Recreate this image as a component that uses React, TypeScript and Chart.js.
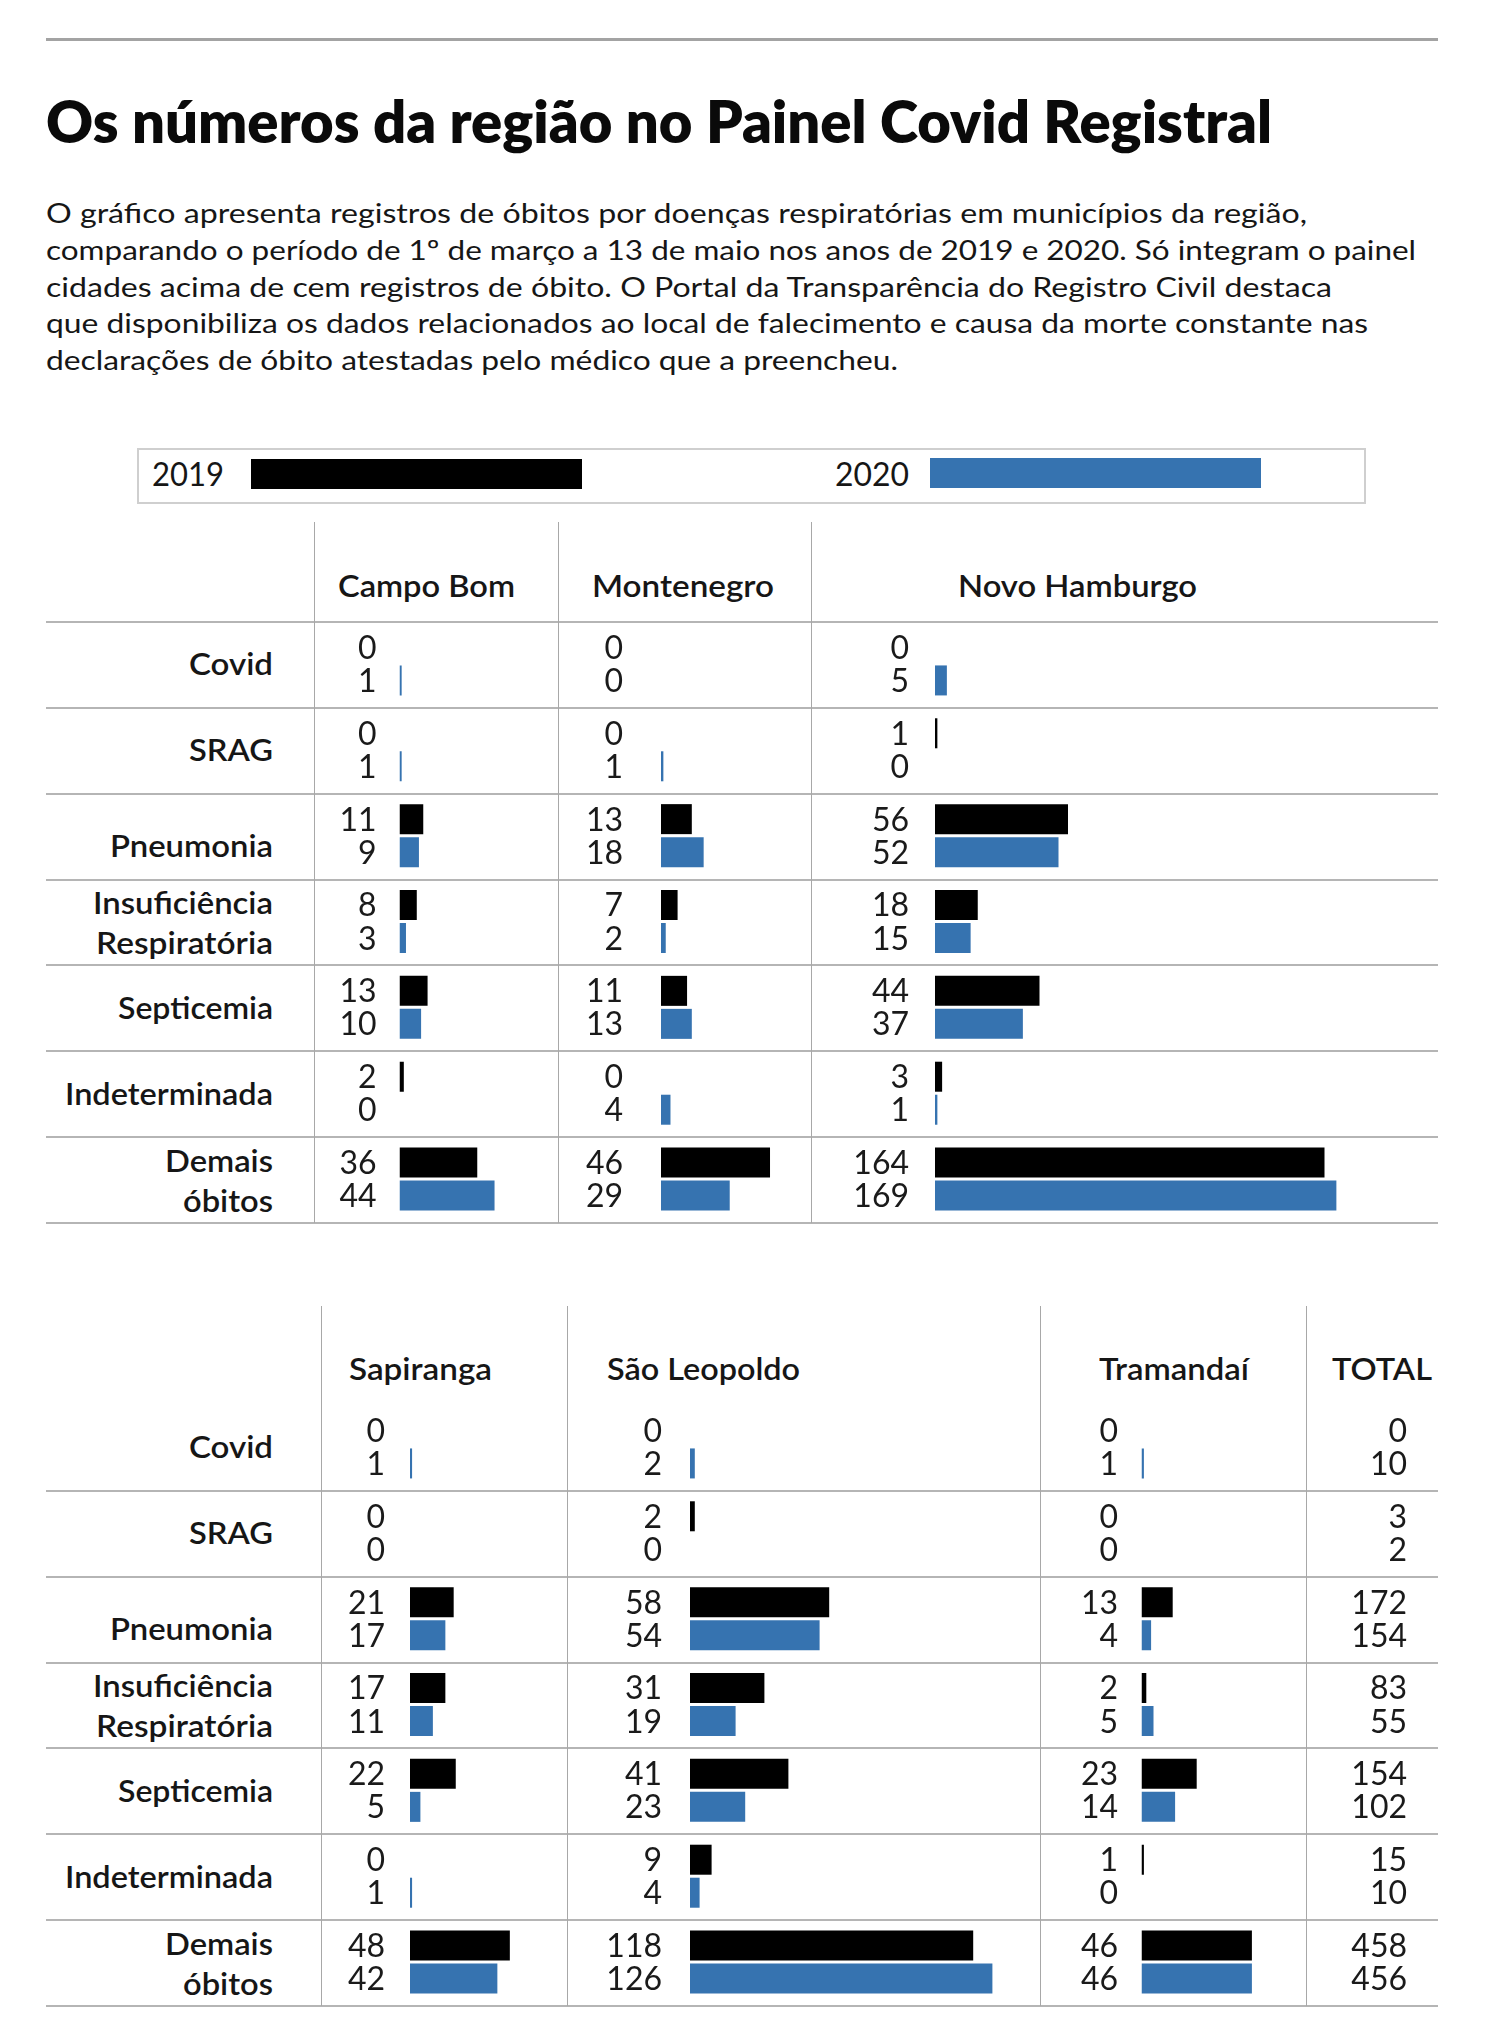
import React, { useEffect, useLayoutEffect, useRef } from "react";
import { Chart, registerables } from "chart.js";

Chart.register(...registerables);

// ---------- DATA ----------
const categories = [
  "Covid",
  "SRAG",
  "Pneumonia",
  "Insuficiência Respiratória",
  "Septicemia",
  "Indeterminada",
  "Demais óbitos",
];
const years = ["2019", "2020"];

const campoBom2019 = [0, 0, 11, 8, 13, 2, 36];
const campoBom2020 = [1, 1, 9, 3, 10, 0, 44];
const montenegro2019 = [0, 0, 13, 7, 11, 0, 46];
const montenegro2020 = [0, 1, 18, 2, 13, 4, 29];
const novoHamburgo2019 = [0, 1, 56, 18, 44, 3, 164];
const novoHamburgo2020 = [5, 0, 52, 15, 37, 1, 169];
const sapiranga2019 = [0, 0, 21, 17, 22, 0, 48];
const sapiranga2020 = [1, 0, 17, 11, 5, 1, 42];
const saoLeopoldo2019 = [0, 2, 58, 31, 41, 9, 118];
const saoLeopoldo2020 = [2, 0, 54, 19, 23, 4, 126];
const tramandai2019 = [0, 0, 13, 2, 23, 1, 46];
const tramandai2020 = [1, 0, 4, 5, 14, 0, 46];
const total2019 = [0, 3, 172, 83, 154, 15, 458];
const total2020 = [10, 2, 154, 55, 102, 10, 456];

const titleText = "Os números da região no Painel Covid Registral";
const bodyLines = [
  "O gráfico apresenta registros de óbitos por doenças respiratórias em municípios da região,",
  "comparando o período de 1º de março a 13 de maio nos anos de 2019 e 2020. Só integram o painel",
  "cidades acima de cem registros de óbito. O Portal da Transparência do Registro Civil destaca",
  "que disponibiliza os dados relacionados ao local de falecimento e causa da morte constante nas",
  "declarações de óbito atestadas pelo médico que a preencheu.",
];

// ---------- STYLE / LAYOUT ----------
const FONT = "Lato, 'Noto Sans', sans-serif";
const BLACK = "#000000";
const BLUE = "#3673b0";
const TEXT = "#161616";
const LINE = "#b5b5b5";
const VLINE = "#a8a8a8";

const bodyWidths = [1261, 1370, 1286, 1322, 852];
const bodyBaselines = [223.3, 260, 296.7, 333.3, 370];

const labelWidths: Record<string, number> = {
  Covid: 84,
  SRAG: 84,
  Pneumonia: 163,
  "Insuficiência": 180,
  "Respiratória": 177,
  Septicemia: 155,
  Indeterminada: 208,
  Demais: 108,
  "óbitos": 90,
};

const ROW_H = 601 / 7;
const LABEL_RIGHT = 273;

function FitText(props: {
  text: string;
  left: number;
  baseline: number;
  width: number;
  size: number;
  weight?: number;
  color?: string;
}) {
  const { text, left, baseline, width, size, weight = 400, color = TEXT } = props;
  const ref = useRef<HTMLSpanElement>(null);
  useLayoutEffect(() => {
    const el = ref.current;
    if (!el) return;
    el.style.transform = "none";
    const w = el.getBoundingClientRect().width;
    if (w > 0) el.style.transform = `scaleX(${width / w})`;
  }, [text, width, size, weight]);
  return (
    <div
      style={{
        position: "absolute",
        left,
        top: baseline - (size / 2 + 0.387 * size),
        fontSize: size,
        lineHeight: size + "px",
        fontWeight: weight,
        fontFamily: FONT,
        color,
        whiteSpace: "nowrap",
      }}
    >
      <span ref={ref} style={{ display: "inline-block", transformOrigin: "0 0" }}>
        {text}
      </span>
    </div>
  );
}

type ColProps = {
  v2019: number[];
  v2020: number[];
  left: number;
  top: number;
  width: number;
  barStart: number;
  numRight: number;
  ppu: number;
  bars?: boolean;
};

function BarColumn(p: ColProps) {
  const ref = useRef<HTMLCanvasElement>(null);
  const height = 601;
  useEffect(() => {
    if (!ref.current) return;
    const padLeft = p.barStart - p.left;
    const areaW = p.width - padLeft;
    const gap = p.barStart - p.numRight;
    const showBars = p.bars !== false;
    const numbersPlugin = {
      id: "numbers",
      afterDatasetsDraw(chart: any) {
        const ctx = chart.ctx;
        ctx.save();
        ctx.font = "400 32px Lato, 'Noto Sans', sans-serif";
        ctx.fillStyle = "#1a1a1a";
        ctx.textAlign = "right";
        ctx.textBaseline = "alphabetic";
        chart.data.datasets.forEach((ds: any, i: number) => {
          const meta = chart.getDatasetMeta(i);
          meta.data.forEach((el: any, j: number) => {
            ctx.fillText(String(ds.data[j]), chart.chartArea.left - gap, el.y + 11.5);
          });
        });
        ctx.restore();
      },
    };
    const chart = new Chart(ref.current, {
      type: "bar",
      data: {
        labels: categories,
        datasets: [
          {
            label: years[0],
            data: p.v2019,
            backgroundColor: showBars ? BLACK : "rgba(0,0,0,0)",
            borderWidth: 0,
          },
          {
            label: years[1],
            data: p.v2020,
            backgroundColor: showBars ? BLUE : "rgba(0,0,0,0)",
            borderWidth: 0,
          },
        ],
      },
      options: {
        indexAxis: "y",
        responsive: false,
        maintainAspectRatio: false,
        animation: false,
        events: [],
        layout: { padding: { left: padLeft, right: 0, top: 0, bottom: 0 } },
        datasets: {
          bar: { categoryPercentage: 0.769, barPercentage: 0.909 },
        },
        scales: {
          x: { type: "linear", min: 0, max: areaW / p.ppu, display: false },
          y: { type: "category", display: false },
        },
        plugins: {
          legend: { display: false },
          tooltip: { enabled: false },
        },
      } as any,
      plugins: [numbersPlugin],
    });
    return () => chart.destroy();
  }, []);
  return (
    <canvas
      ref={ref}
      width={p.width}
      height={height}
      style={{
        position: "absolute",
        left: p.left,
        top: p.top,
        width: p.width,
        height,
      }}
    />
  );
}

function HLine({ y, x1 = 46, x2 = 1438, color = LINE, h = 2 }: any) {
  return (
    <div
      style={{
        position: "absolute",
        left: x1,
        top: y - h / 2,
        width: x2 - x1,
        height: h,
        background: color,
      }}
    />
  );
}

function VLine({ x, y1, y2 }: any) {
  return (
    <div
      style={{
        position: "absolute",
        left: x - 0.5,
        top: y1,
        width: 1,
        height: y2 - y1,
        background: VLINE,
      }}
    />
  );
}

function RowLabels({ tableTop }: { tableTop: number }) {
  const out: any[] = [];
  categories.forEach((cat, r) => {
    const center = tableTop + r * ROW_H + ROW_H / 2;
    const lines = cat.split(" ");
    if (lines.length === 1) {
      const extra = cat === "Pneumonia" ? 10 : 0;
      const w = labelWidths[cat];
      out.push(
        <FitText
          key={cat}
          text={cat}
          left={LABEL_RIGHT - w}
          baseline={center + 11 + extra}
          width={w}
          size={31}
          weight={600}
        />
      );
    } else {
      lines.forEach((ln, k) => {
        const w = labelWidths[ln];
        out.push(
          <FitText
            key={cat + k}
            text={ln}
            left={LABEL_RIGHT - w}
            baseline={center - 8 + k * 40}
            width={w}
            size={31}
            weight={600}
          />
        );
      });
    }
  });
  return <>{out}</>;
}

export default function App() {
  const top1 = 622;
  const top2 = 1405;
  const rows1 = Array.from({ length: 8 }, (_, k) => top1 + k * ROW_H);
  const rows2 = Array.from({ length: 7 }, (_, k) => top2 + (k + 1) * ROW_H);
  return (
    <div
      style={{
        position: "absolute",
        left: 0,
        top: 0,
        width: 1491,
        height: 2040,
        overflow: "hidden",
        background: "#ffffff",
        fontFamily: FONT,
      }}
    >
      {/* top rule */}
      <HLine y={39} color="#a3a3a3" h={3} />

      {/* title & intro */}
      <FitText text={titleText} left={46} baseline={143.3} width={1226} size={58} weight={800} color="#0a0a0a" />
      {bodyLines.map((t, i) => (
        <FitText key={i} text={t} left={46} baseline={bodyBaselines[i]} width={bodyWidths[i]} size={27} />
      ))}

      {/* legend */}
      <div
        style={{
          position: "absolute",
          left: 137,
          top: 448,
          width: 1229,
          height: 56,
          boxSizing: "border-box",
          border: "2px solid #cfcfcf",
        }}
      />
      <FitText text={years[0]} left={152} baseline={486} width={72} size={32} />
      <div style={{ position: "absolute", left: 251, top: 459, width: 331, height: 30, background: BLACK }} />
      <FitText text={years[1]} left={835} baseline={486.5} width={74} size={32} />
      <div style={{ position: "absolute", left: 930, top: 458, width: 331, height: 30, background: BLUE }} />

      {/* ---------- table 1 ---------- */}
      {rows1.map((y, i) => (
        <HLine key={"h1" + i} y={y} />
      ))}
      <VLine x={314} y1={522} y2={1223} />
      <VLine x={558} y1={522} y2={1223} />
      <VLine x={811} y1={522} y2={1223} />
      <FitText text="Campo Bom" left={338} baseline={597} width={177} size={30} weight={600} />
      <FitText text="Montenegro" left={592} baseline={597} width={182} size={30} weight={600} />
      <FitText text="Novo Hamburgo" left={958} baseline={597} width={239} size={30} weight={600} />
      <RowLabels tableTop={top1} />
      <BarColumn v2019={campoBom2019} v2020={campoBom2020} left={315} top={top1 - 1.5} width={243} barStart={399.5} numRight={376.5} ppu={2.16} />
      <BarColumn v2019={montenegro2019} v2020={montenegro2020} left={559} top={top1 - 1.5} width={252} barStart={661} numRight={623} ppu={2.37} />
      <BarColumn v2019={novoHamburgo2019} v2020={novoHamburgo2020} left={812} top={top1 - 1.5} width={626} barStart={935} numRight={909} ppu={2.375} />

      {/* ---------- table 2 ---------- */}
      {rows2.map((y, i) => (
        <HLine key={"h2" + i} y={y} />
      ))}
      <VLine x={321} y1={1306} y2={2006} />
      <VLine x={567} y1={1306} y2={2006} />
      <VLine x={1040.5} y1={1306} y2={2006} />
      <VLine x={1306.5} y1={1306} y2={2006} />
      <FitText text="Sapiranga" left={349} baseline={1380} width={143} size={30} weight={600} />
      <FitText text="São Leopoldo" left={607} baseline={1380} width={193} size={30} weight={600} />
      <FitText text="Tramandaí" left={1099} baseline={1380} width={150} size={30} weight={600} />
      <FitText text="TOTAL" left={1332} baseline={1380} width={100} size={30} weight={600} />
      <RowLabels tableTop={top2} />
      <BarColumn v2019={sapiranga2019} v2020={sapiranga2020} left={322} top={top2 - 1.5} width={245} barStart={410} numRight={385} ppu={2.08} />
      <BarColumn v2019={saoLeopoldo2019} v2020={saoLeopoldo2020} left={568} top={top2 - 1.5} width={472} barStart={690} numRight={662} ppu={2.4} />
      <BarColumn v2019={tramandai2019} v2020={tramandai2020} left={1041} top={top2 - 1.5} width={265} barStart={1141.5} numRight={1118} ppu={2.4} />
      <BarColumn v2019={total2019} v2020={total2020} left={1307} top={top2 - 1.5} width={131} barStart={1430} numRight={1407} ppu={2.4} bars={false} />
    </div>
  );
}
